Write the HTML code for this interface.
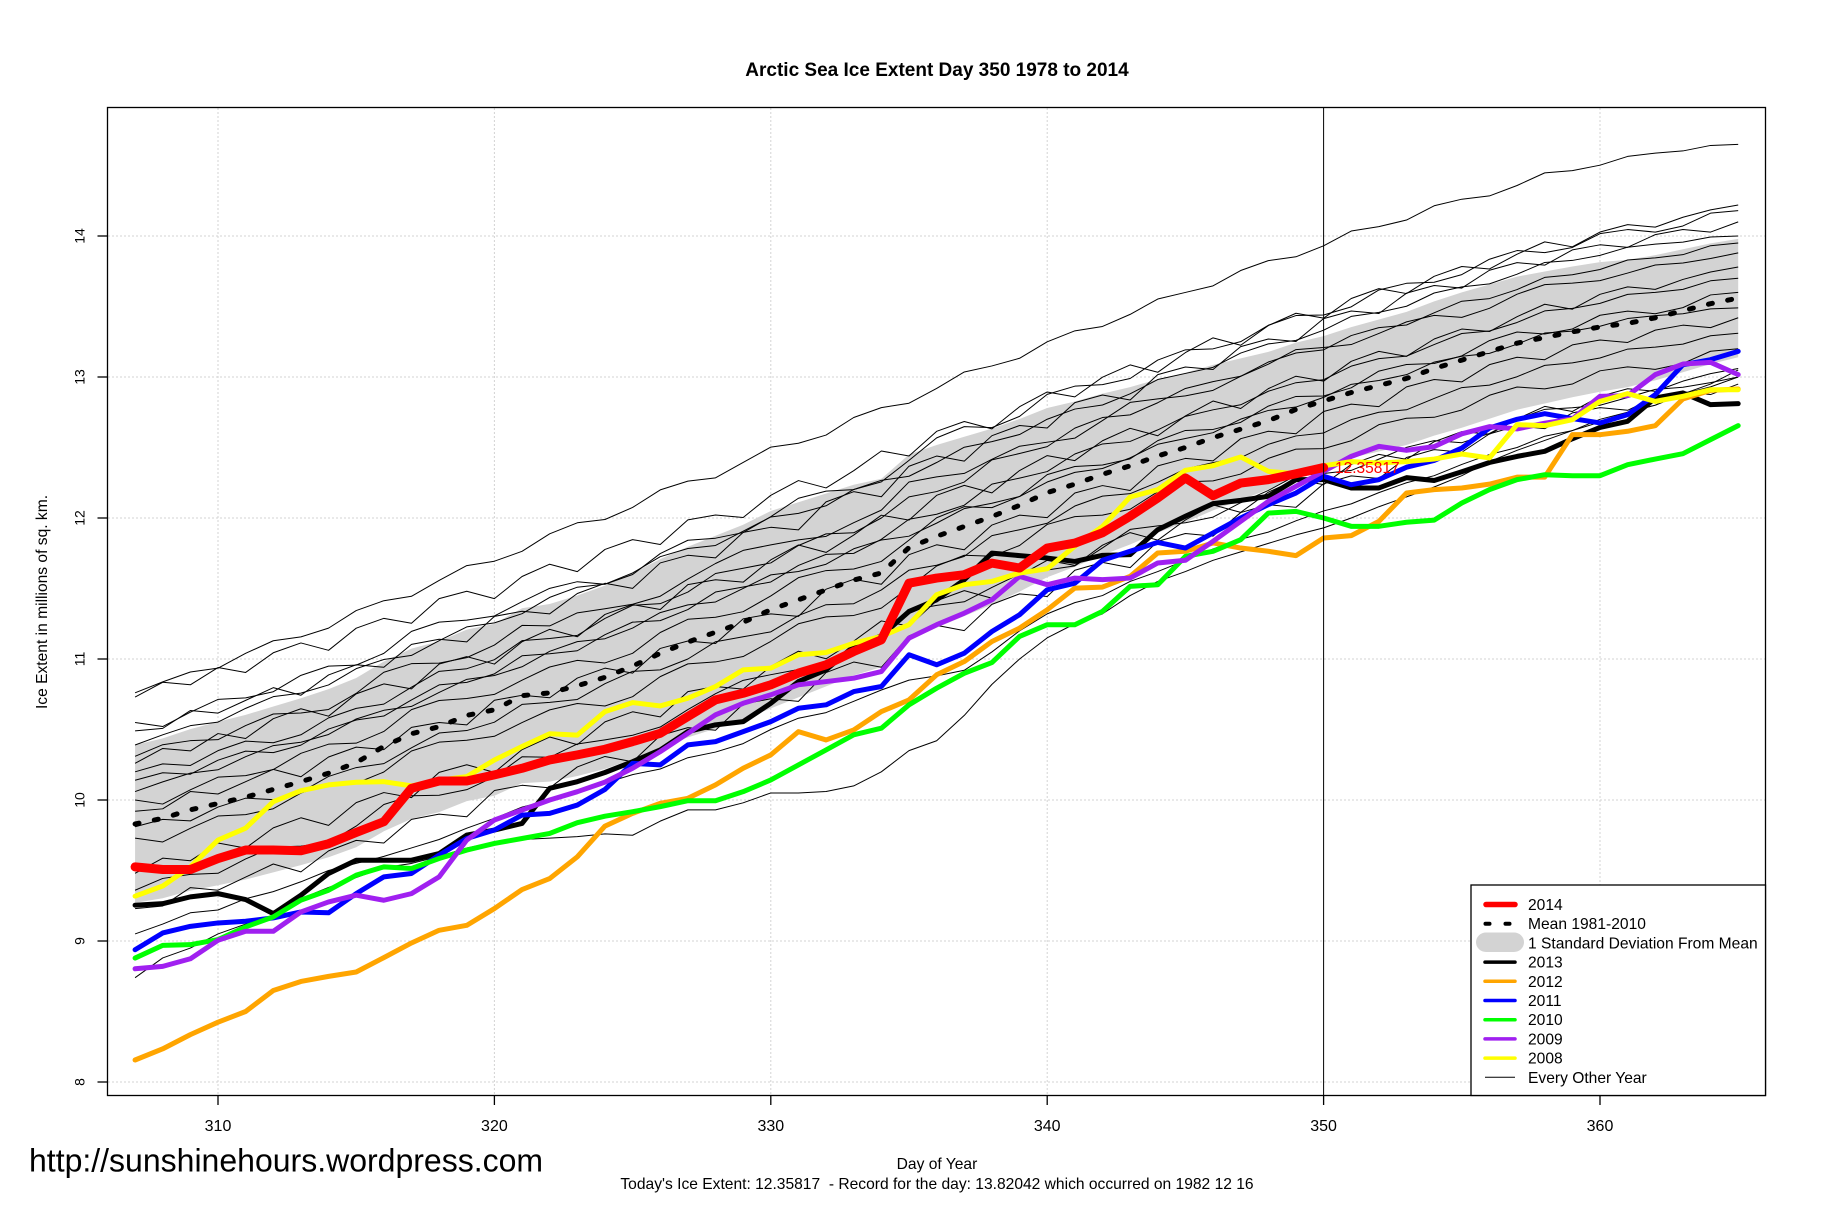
<!DOCTYPE html>
<html><head><meta charset="utf-8"><style>
html,body{margin:0;padding:0;background:#fff;}
svg{display:block;}
text{font-family:"Liberation Sans",Arial,sans-serif;fill:#000;}
.t{fill:none;stroke:#000;stroke-width:1;vector-effect:non-scaling-stroke;stroke-linejoin:round;}
.c{fill:none;stroke-width:5;vector-effect:non-scaling-stroke;stroke-linejoin:round;stroke-linecap:round;}
</style></head><body>
<svg width="1836" height="1223" viewBox="0 0 1836 1223" xmlns="http://www.w3.org/2000/svg">
<rect x="0" y="0" width="1836" height="1223" fill="#fff"/>
<!-- grid -->
<g stroke="#D3D3D3" stroke-width="1" stroke-dasharray="2 2">
<line x1="108" y1="236" x2="1765" y2="236"/><line x1="108" y1="377" x2="1765" y2="377"/><line x1="108" y1="518" x2="1765" y2="518"/><line x1="108" y1="659" x2="1765" y2="659"/><line x1="108" y1="800" x2="1765" y2="800"/><line x1="108" y1="941" x2="1765" y2="941"/><line x1="108" y1="1082" x2="1765" y2="1082"/>
<line x1="218" y1="108" x2="218" y2="1095"/><line x1="494.4" y1="108" x2="494.4" y2="1095"/><line x1="770.8" y1="108" x2="770.8" y2="1095"/><line x1="1047.2" y1="108" x2="1047.2" y2="1095"/><line x1="1600" y1="108" x2="1600" y2="1095"/>
</g>
<g transform="matrix(27.64 0 0 -141 -8350.4 2210)">
<polygon fill="#D3D3D3" stroke="none" points="307,10.39 308,10.437 309,10.503 310,10.555 311,10.604 312,10.663 313,10.722 314,10.786 315,10.865 316,10.982 317,11.074 318,11.126 319,11.208 320,11.25 321,11.36 322,11.39 323,11.45 324,11.52 325,11.61 326,11.708 327,11.796 328,11.874 329,11.952 330,12.05 331,12.112 332,12.174 333,12.236 334,12.278 335,12.45 336,12.518 337,12.576 338,12.634 339,12.702 340,12.78 341,12.826 342,12.882 343,12.928 344,12.984 345,13.03 346,13.086 347,13.132 348,13.178 349,13.244 350,13.29 351,13.354 352,13.408 353,13.462 354,13.536 355,13.6 356,13.656 357,13.712 358,13.748 359,13.784 360,13.815 361,13.832 362,13.864 363,13.906 364,13.948 365,13.98 365,13.14 364,13.092 363,13.034 362,12.976 361,12.928 360,12.895 359,12.856 358,12.812 357,12.768 356,12.704 355,12.64 354,12.584 353,12.518 352,12.472 351,12.426 350,12.37 349,12.296 348,12.202 347,12.128 346,12.054 345,11.97 344,11.896 343,11.812 342,11.738 341,11.654 340,11.58 339,11.478 338,11.386 337,11.304 336,11.222 335,11.13 334,10.942 333,10.884 332,10.806 331,10.728 330,10.65 329,10.568 328,10.506 327,10.444 326,10.372 325,10.29 324,10.22 323,10.17 322,10.13 321,10.12 320,10.03 319,9.992 318,9.914 317,9.866 316,9.778 315,9.665 314,9.594 313,9.538 312,9.487 311,9.436 310,9.395 309,9.357 308,9.303 307,9.27"/>
<polyline class="t" points="307,8.74 308,8.88 309,8.95 310,9.05 311,9.12 312,9.18 313,9.3 314,9.38 315,9.45 316,9.52 317,9.55 318,9.6 319,9.66 320,9.7 321,9.72 322,9.73 323,9.74 324,9.76 325,9.75 326,9.85 327,9.93 328,9.93 329,9.98 330,10.05 331,10.05 332,10.06 333,10.1 334,10.2 335,10.35 336,10.42 337,10.6 338,10.82 339,11 340,11.15 341,11.25 342,11.32 343,11.45 344,11.55 345,11.62 346,11.7 347,11.76 348,11.82 349,11.88 350,11.93 351,12 352,12.08 353,12.15 354,12.22 355,12.3 356,12.4 357,12.48 358,12.55 359,12.62 360,12.68 361,12.75 362,12.8 363,12.88 364,12.95 365,13.05"/>
<polyline class="t" points="307,9.05 308,9.12 309,9.2 310,9.22 311,9.3 312,9.35 313,9.42 314,9.5 315,9.55 316,9.6 317,9.66 318,9.72 319,9.8 320,9.87 321,9.95 322,10 323,10.05 324,10.12 325,10.18 326,10.22 327,10.3 328,10.34 329,10.4 330,10.5 331,10.58 332,10.62 333,10.7 334,10.78 335,10.85 336,10.88 337,10.92 338,11.05 339,11.2 340,11.32 341,11.4 342,11.45 343,11.55 344,11.62 345,11.7 346,11.78 347,11.85 348,11.9 349,11.98 350,12.05 351,12.1 352,12.18 353,12.25 354,12.3 355,12.38 356,12.45 357,12.5 358,12.58 359,12.62 360,12.7 361,12.75 362,12.8 363,12.88 364,12.93 365,13"/>
</g>
<!-- thin lines -->
<g>
<polyline class="t" transform="matrix(27.64 0 0 -548.49 -8350.4 692.84)" points="307,0 308,.02 309,.038 310,.045 311,.072 312,.095 313,.102 314,.118 315,.15 316,.168 317,.176 318,.205 319,.232 320,.24 321,.258 322,.29 323,.31 324,.316 325,.338 326,.37 327,.386 328,.392 329,.42 330,.448 331,.455 332,.47 333,.502 334,.52 335,.528 336,.555 337,.585 338,.596 339,.61 340,.64 341,.66 342,.668 343,.69 344,.718 345,.73 346,.742 347,.77 348,.788 349,.795 350,.815 351,.842 352,.85 353,.862 354,.888 355,.9 356,.906 357,.925 358,.948 359,.952 360,.962 361,.978 362,.984 363,.988 364,.998 365,1"/>
<polyline class="t" transform="matrix(27.64 0 0 -492.09 -8350.4 697.07)" points="307,0 308,.03 309,.025 310,.06 311,.05 312,.09 313,.11 314,.095 315,.14 316,.16 317,.15 318,.2 319,.215 320,.2 321,.245 322,.27 323,.255 324,.3 325,.32 326,.31 327,.36 328,.37 329,.365 330,.41 331,.44 332,.425 333,.46 334,.5 335,.49 336,.54 337,.56 338,.545 339,.59 340,.62 341,.61 342,.65 343,.675 344,.66 345,.7 346,.73 347,.715 348,.755 349,.78 350,.77 351,.81 352,.83 353,.82 354,.855 355,.875 356,.87 357,.9 358,.925 359,.915 360,.945 361,.96 362,.955 363,.975 364,.99 365,1"/>
<polyline class="t" transform="matrix(27.64 0 0 -511.83 -8350.4 722.45)" points="307,0 308,-.008 309,.02 310,.045 311,.048 312,.06 313,.092 314,.11 315,.112 316,.135 317,.178 318,.196 319,.2 320,.208 321,.236 322,.262 323,.275 324,.27 325,.289 326,.33 327,.356 328,.36 329,.371 330,.402 331,.438 332,.452 333,.455 334,.47 335,.512 336,.556 337,.578 338,.576 339,.598 340,.641 341,.657 342,.66 343,.672 344,.708 345,.728 346,.73 347,.744 348,.776 349,.795 350,.796 351,.812 352,.845 353,.858 354,.86 355,.875 356,.905 357,.922 358,.918 359,.928 360,.955 361,.963 362,.958 363,.97 364,.995 365,1"/>
<polyline class="t" transform="matrix(27.64 0 0 -509.01 -8350.4 730.91)" points="307,0 308,.005 309,.04 310,.035 311,.06 312,.085 313,.07 314,.11 315,.13 316,.125 317,.17 318,.18 319,.175 320,.225 321,.235 322,.23 323,.27 324,.29 325,.28 326,.33 327,.345 328,.34 329,.39 330,.4 331,.395 332,.45 333,.47 334,.46 335,.52 336,.54 337,.53 338,.58 339,.6 340,.595 341,.645 342,.66 343,.65 344,.7 345,.715 346,.71 347,.755 348,.77 349,.765 350,.81 351,.825 352,.82 353,.86 354,.875 355,.87 356,.905 357,.92 358,.915 359,.945 360,.955 361,.95 362,.975 363,.985 364,.98 365,1"/>
<polyline class="t" transform="matrix(27.64 0 0 -509.01 -8350.4 745.01)" points="307,0 308,.02 309,.038 310,.045 311,.072 312,.095 313,.102 314,.118 315,.15 316,.168 317,.176 318,.205 319,.232 320,.24 321,.258 322,.29 323,.31 324,.316 325,.338 326,.37 327,.386 328,.392 329,.42 330,.448 331,.455 332,.47 333,.502 334,.52 335,.528 336,.555 337,.585 338,.596 339,.61 340,.64 341,.66 342,.668 343,.69 344,.718 345,.73 346,.742 347,.77 348,.788 349,.795 350,.815 351,.842 352,.85 353,.862 354,.888 355,.9 356,.906 357,.925 358,.948 359,.952 360,.962 361,.978 362,.984 363,.988 364,.998 365,1"/>
<polyline class="t" transform="matrix(27.64 0 0 -503.37 -8350.4 756.29)" points="307,0 308,.023 309,.031 310,.033 311,.061 312,.084 313,.086 314,.093 315,.125 316,.167 317,.184 318,.185 319,.196 320,.221 321,.26 322,.259 323,.285 324,.293 325,.302 326,.318 327,.352 328,.383 329,.409 330,.42 331,.43 332,.437 333,.464 334,.489 335,.545 336,.555 337,.562 338,.59 339,.616 340,.624 341,.632 342,.667 343,.703 344,.71 345,.716 346,.727 347,.755 348,.779 349,.808 350,.812 351,.818 352,.84 353,.863 354,.876 355,.872 356,.89 357,.918 358,.937 359,.94 360,.945 361,.96 362,.976 363,.98 364,.989 365,1"/>
<polyline class="t" transform="matrix(27.64 0 0 -496.32 -8350.4 763.34)" points="307,0 308,.03 309,.025 310,.06 311,.05 312,.09 313,.11 314,.095 315,.14 316,.16 317,.15 318,.2 319,.215 320,.2 321,.245 322,.27 323,.255 324,.3 325,.32 326,.31 327,.36 328,.37 329,.365 330,.41 331,.44 332,.425 333,.46 334,.5 335,.49 336,.54 337,.56 338,.545 339,.59 340,.62 341,.61 342,.65 343,.675 344,.66 345,.7 346,.73 347,.715 348,.755 349,.78 350,.77 351,.81 352,.83 353,.82 354,.855 355,.875 356,.87 357,.9 358,.925 359,.915 360,.945 361,.96 362,.955 363,.975 364,.99 365,1"/>
<polyline class="t" transform="matrix(27.64 0 0 -501.96 -8350.4 780.26)" points="307,0 308,.015 309,.012 310,.04 311,.058 312,.055 313,.07 314,.102 315,.12 316,.128 317,.16 318,.19 319,.195 320,.212 321,.248 322,.252 323,.258 324,.29 325,.315 326,.318 327,.34 328,.375 329,.385 330,.395 331,.428 332,.45 333,.452 334,.48 335,.52 336,.53 337,.548 338,.59 339,.602 340,.615 341,.65 342,.67 343,.675 344,.698 345,.725 346,.738 347,.748 348,.775 349,.792 350,.798 351,.825 352,.84 353,.845 354,.868 355,.89 356,.895 357,.912 358,.935 359,.94 360,.95 361,.968 362,.972 363,.978 364,.995 365,1"/>
<polyline class="t" transform="matrix(27.64 0 0 -483.63 -8350.4 791.54)" points="307,0 308,.02 309,.038 310,.045 311,.072 312,.095 313,.102 314,.118 315,.15 316,.168 317,.176 318,.205 319,.232 320,.24 321,.258 322,.29 323,.31 324,.316 325,.338 326,.37 327,.386 328,.392 329,.42 330,.448 331,.455 332,.47 333,.502 334,.52 335,.528 336,.555 337,.585 338,.596 339,.61 340,.64 341,.66 342,.668 343,.69 344,.718 345,.73 346,.742 347,.77 348,.788 349,.795 350,.815 351,.842 352,.85 353,.862 354,.888 355,.9 356,.906 357,.925 358,.948 359,.952 360,.962 361,.978 362,.984 363,.988 364,.998 365,1"/>
<polyline class="t" transform="matrix(27.64 0 0 -493.5 -8350.4 811.28)" points="307,0 308,.005 309,.04 310,.035 311,.06 312,.085 313,.07 314,.11 315,.13 316,.125 317,.17 318,.18 319,.175 320,.225 321,.235 322,.23 323,.27 324,.29 325,.28 326,.33 327,.345 328,.34 329,.39 330,.4 331,.395 332,.45 333,.47 334,.46 335,.52 336,.54 337,.53 338,.58 339,.6 340,.595 341,.645 342,.66 343,.65 344,.7 345,.715 346,.71 347,.755 348,.77 349,.765 350,.81 351,.825 352,.82 353,.86 354,.875 355,.87 356,.905 357,.92 358,.915 359,.945 360,.955 361,.95 362,.975 363,.985 364,.98 365,1"/>
<polyline class="t" transform="matrix(27.64 0 0 -493.5 -8350.4 826.79)" points="307,0 308,.015 309,.012 310,.04 311,.058 312,.055 313,.07 314,.102 315,.12 316,.128 317,.16 318,.19 319,.195 320,.212 321,.248 322,.252 323,.258 324,.29 325,.315 326,.318 327,.34 328,.375 329,.385 330,.395 331,.428 332,.45 333,.452 334,.48 335,.52 336,.53 337,.548 338,.59 339,.602 340,.615 341,.65 342,.67 343,.675 344,.698 345,.725 346,.738 347,.748 348,.775 349,.792 350,.798 351,.825 352,.84 353,.845 354,.868 355,.89 356,.895 357,.912 358,.935 359,.94 360,.95 361,.968 362,.972 363,.978 364,.995 365,1"/>
<polyline class="t" transform="matrix(27.64 0 0 -489.27 -8350.4 838.07)" points="307,0 308,-.008 309,.02 310,.045 311,.048 312,.06 313,.092 314,.11 315,.112 316,.135 317,.178 318,.196 319,.2 320,.208 321,.236 322,.262 323,.275 324,.27 325,.289 326,.33 327,.356 328,.36 329,.371 330,.402 331,.438 332,.452 333,.455 334,.47 335,.512 336,.556 337,.578 338,.576 339,.598 340,.641 341,.657 342,.66 343,.672 344,.708 345,.728 346,.73 347,.744 348,.776 349,.795 350,.796 351,.812 352,.845 353,.858 354,.86 355,.875 356,.905 357,.922 358,.918 359,.928 360,.955 361,.963 362,.958 363,.97 364,.995 365,1"/>
<polyline class="t" transform="matrix(27.64 0 0 -504.78 -8350.4 873.32)" points="307,0 308,.03 309,.025 310,.06 311,.05 312,.09 313,.11 314,.095 315,.14 316,.16 317,.15 318,.2 319,.215 320,.2 321,.245 322,.27 323,.255 324,.3 325,.32 326,.31 327,.36 328,.37 329,.365 330,.41 331,.44 332,.425 333,.46 334,.5 335,.49 336,.54 337,.56 338,.545 339,.59 340,.62 341,.61 342,.65 343,.675 344,.66 345,.7 346,.73 347,.715 348,.755 349,.78 350,.77 351,.81 352,.83 353,.82 354,.855 355,.875 356,.87 357,.9 358,.925 359,.915 360,.945 361,.96 362,.955 363,.975 364,.99 365,1"/>
<polyline class="t" transform="matrix(27.64 0 0 -513.24 -8350.4 890.24)" points="307,0 308,.023 309,.031 310,.033 311,.061 312,.084 313,.086 314,.093 315,.125 316,.167 317,.184 318,.185 319,.196 320,.221 321,.26 322,.259 323,.285 324,.293 325,.302 326,.318 327,.352 328,.383 329,.409 330,.42 331,.43 332,.437 333,.464 334,.489 335,.545 336,.555 337,.562 338,.59 339,.616 340,.624 341,.632 342,.667 343,.703 344,.71 345,.716 346,.727 347,.755 348,.779 349,.808 350,.812 351,.818 352,.84 353,.863 354,.876 355,.872 356,.89 357,.918 358,.937 359,.94 360,.945 361,.96 362,.976 363,.98 364,.989 365,1"/>
<polyline class="t" transform="matrix(27.64 0 0 -524.52 -8350.4 908.57)" points="307,0 308,.005 309,.04 310,.035 311,.06 312,.085 313,.07 314,.11 315,.13 316,.125 317,.17 318,.18 319,.175 320,.225 321,.235 322,.23 323,.27 324,.29 325,.28 326,.33 327,.345 328,.34 329,.39 330,.4 331,.395 332,.45 333,.47 334,.46 335,.52 336,.54 337,.53 338,.58 339,.6 340,.595 341,.645 342,.66 343,.65 344,.7 345,.715 346,.71 347,.755 348,.77 349,.765 350,.81 351,.825 352,.82 353,.86 354,.875 355,.87 356,.905 357,.92 358,.915 359,.945 360,.955 361,.95 362,.975 363,.985 364,.98 365,1"/>
<polyline class="t" transform="matrix(27.64 0 0 -507.6 -8350.4 800)" points="307,0 308,-.008 309,.02 310,.045 311,.048 312,.06 313,.092 314,.11 315,.112 316,.135 317,.178 318,.196 319,.2 320,.208 321,.236 322,.262 323,.275 324,.27 325,.289 326,.33 327,.356 328,.36 329,.371 330,.402 331,.438 332,.452 333,.455 334,.47 335,.512 336,.556 337,.578 338,.576 339,.598 340,.641 341,.657 342,.66 343,.672 344,.708 345,.728 346,.73 347,.744 348,.776 349,.795 350,.796 351,.812 352,.845 353,.858 354,.86 355,.875 356,.905 357,.922 358,.918 359,.928 360,.955 361,.963 362,.958 363,.97 364,.995 365,1"/>
<polyline class="t" transform="matrix(27.64 0 0 -528.75 -8350.4 771.8)" points="307,0 308,.015 309,.012 310,.04 311,.058 312,.055 313,.07 314,.102 315,.12 316,.128 317,.16 318,.19 319,.195 320,.212 321,.248 322,.252 323,.258 324,.29 325,.315 326,.318 327,.34 328,.375 329,.385 330,.395 331,.428 332,.45 333,.452 334,.48 335,.52 336,.53 337,.548 338,.59 339,.602 340,.615 341,.65 342,.67 343,.675 344,.698 345,.725 346,.738 347,.748 348,.775 349,.792 350,.798 351,.825 352,.84 353,.845 354,.868 355,.89 356,.895 357,.912 358,.935 359,.94 360,.95 361,.968 362,.972 363,.978 364,.995 365,1"/>
</g>
<g transform="matrix(27.64 0 0 -141 -8350.4 2210)">
<polyline fill="none" stroke="#000" stroke-width="5" stroke-dasharray="4 15.6" stroke-linecap="round" vector-effect="non-scaling-stroke" points="307,9.83 308,9.87 309,9.93 310,9.975 311,10.02 312,10.075 313,10.13 314,10.19 315,10.265 316,10.38 317,10.47 318,10.52 319,10.6 320,10.64 321,10.74 322,10.76 323,10.81 324,10.87 325,10.95 326,11.04 327,11.12 328,11.19 329,11.26 330,11.35 331,11.42 332,11.49 333,11.56 334,11.61 335,11.79 336,11.87 337,11.94 338,12.01 339,12.09 340,12.18 341,12.24 342,12.31 343,12.37 344,12.44 345,12.5 346,12.57 347,12.63 348,12.69 349,12.77 350,12.83 351,12.89 352,12.94 353,12.99 354,13.06 355,13.12 356,13.18 357,13.24 358,13.28 359,13.32 360,13.355 361,13.38 362,13.42 363,13.47 364,13.52 365,13.56"/>
<polyline class="c" stroke="#000" points="307,9.254 308,9.265 309,9.313 310,9.336 311,9.294 312,9.194 313,9.325 314,9.479 315,9.573 316,9.573 317,9.573 318,9.62 319,9.751 320,9.787 321,9.834 322,10.083 323,10.13 324,10.195 325,10.272 326,10.355 327,10.485 328,10.533 329,10.556 330,10.686 331,10.84 332,10.923 333,11.089 334,11.164 335,11.337 336,11.42 337,11.562 338,11.751 339,11.733 340,11.716 341,11.692 342,11.735 343,11.74 344,11.917 345,12.012 346,12.102 347,12.125 348,12.154 349,12.272 350,12.272 351,12.213 352,12.213 353,12.286 354,12.266 355,12.328 356,12.394 357,12.437 358,12.473 359,12.562 360,12.642 361,12.686 362,12.851 363,12.887 364,12.804 365,12.811"/>
<polyline class="c" stroke="#FFA500" points="307,8.156 308,8.235 309,8.336 310,8.424 311,8.5 312,8.649 313,8.713 314,8.749 315,8.78 316,8.882 317,8.986 318,9.076 319,9.111 320,9.23 321,9.365 322,9.443 323,9.597 324,9.815 325,9.905 326,9.976 327,10.012 328,10.107 329,10.225 330,10.32 331,10.485 332,10.426 333,10.497 334,10.627 335,10.71 336,10.888 337,10.982 338,11.124 339,11.219 340,11.349 341,11.503 342,11.51 343,11.586 344,11.752 345,11.764 346,11.823 347,11.787 348,11.764 349,11.733 350,11.858 351,11.875 352,11.976 353,12.177 354,12.201 355,12.213 356,12.24 357,12.29 358,12.29 359,12.591 360,12.591 361,12.615 362,12.655 363,12.844 364,12.905 365,12.915"/>
<polyline class="c" stroke="#0000FF" points="307,8.938 308,9.057 309,9.104 310,9.128 311,9.14 312,9.164 313,9.206 314,9.2 315,9.336 316,9.455 317,9.479 318,9.609 319,9.727 320,9.787 321,9.893 322,9.905 323,9.964 324,10.075 325,10.26 326,10.249 327,10.391 328,10.414 329,10.485 330,10.556 331,10.651 332,10.675 333,10.769 334,10.805 335,11.03 336,10.959 337,11.041 338,11.195 339,11.314 340,11.491 341,11.538 342,11.7 343,11.764 344,11.827 345,11.787 346,11.894 347,12 348,12.095 349,12.177 350,12.296 351,12.236 352,12.272 353,12.36 354,12.408 355,12.496 356,12.638 357,12.7 358,12.74 359,12.705 360,12.674 361,12.733 362,12.875 363,13.087 364,13.123 365,13.182"/>
<polyline class="c" stroke="#00FF00" points="307,8.879 308,8.969 309,8.974 310,9.01 311,9.1 312,9.171 313,9.29 314,9.36 315,9.467 316,9.526 317,9.514 318,9.585 319,9.645 320,9.692 321,9.727 322,9.763 323,9.839 324,9.885 325,9.917 326,9.953 327,9.995 328,9.995 329,10.059 330,10.142 331,10.249 332,10.355 333,10.462 334,10.509 335,10.675 336,10.793 337,10.899 338,10.975 339,11.16 340,11.243 341,11.243 342,11.338 343,11.515 344,11.527 345,11.728 346,11.764 347,11.846 348,12.035 349,12.047 350,12 351,11.941 352,11.941 353,11.97 354,11.985 355,12.106 356,12.201 357,12.272 358,12.307 359,12.3 360,12.3 361,12.378 362,12.418 363,12.456 364,12.556 365,12.655"/>
<polyline class="c" stroke="#A020F0" points="307,8.803 308,8.82 309,8.874 310,9.005 311,9.069 312,9.069 313,9.206 314,9.277 315,9.325 316,9.289 317,9.336 318,9.455 319,9.716 320,9.858 321,9.929 322,10 323,10.059 324,10.127 325,10.225 326,10.343 327,10.473 328,10.604 329,10.686 330,10.746 331,10.817 332,10.84 333,10.864 334,10.911 335,11.148 336,11.243 337,11.325 338,11.42 339,11.586 340,11.527 341,11.574 342,11.563 343,11.574 344,11.681 345,11.7 346,11.835 347,11.976 348,12.118 349,12.225 350,12.331 351,12.437 352,12.508 353,12.48 354,12.506 355,12.597 356,12.648 357,12.632 358,12.672 359,12.703 360,12.863 361,12.868 362,13.017 363,13.092 364,13.104 365,13.017"/>
<polyline class="c" stroke="#FFFF00" points="307,9.318 308,9.39 309,9.526 310,9.716 311,9.8 312,9.988 313,10.066 314,10.107 315,10.126 316,10.13 317,10.1 318,10.14 319,10.166 320,10.284 321,10.379 322,10.47 323,10.46 324,10.627 325,10.691 326,10.667 327,10.722 328,10.805 329,10.923 330,10.935 331,11.03 332,11.046 333,11.112 334,11.16 335,11.243 336,11.456 337,11.527 338,11.55 339,11.61 340,11.64 341,11.8 342,11.94 343,12.149 344,12.201 345,12.338 346,12.371 347,12.433 348,12.331 349,12.314 350,12.37 351,12.4 352,12.39 353,12.4 354,12.418 355,12.454 356,12.426 357,12.662 358,12.655 359,12.697 360,12.827 361,12.882 362,12.827 363,12.863 364,12.91 365,12.91"/>
<polyline class="c" stroke="#FF0000" style="stroke-width:9" points="307,9.526 308,9.507 309,9.507 310,9.585 311,9.645 312,9.645 313,9.64 314,9.69 315,9.77 316,9.846 317,10.083 318,10.135 319,10.135 320,10.178 321,10.225 322,10.284 323,10.32 324,10.36 325,10.414 326,10.473 327,10.592 328,10.71 329,10.757 330,10.817 331,10.9 332,10.959 333,11.053 334,11.136 335,11.538 336,11.574 337,11.598 338,11.68 339,11.645 340,11.787 341,11.822 342,11.895 343,12.012 344,12.142 345,12.284 346,12.158 347,12.248 348,12.272 349,12.314 350,12.358"/>
</g>
<line x1="1323.6" y1="107.5" x2="1323.6" y2="1095.5" stroke="#000" stroke-width="1"/>
<text x="1335" y="473" font-size="15.5" style="fill:#FF0000">12.35817</text>
<rect x="107.5" y="107.5" width="1658" height="988" fill="none" stroke="#000" stroke-width="1.3"/>
<g stroke="#000" stroke-width="1.3">
<line x1="97.5" y1="236" x2="107.5" y2="236"/><line x1="97.5" y1="377" x2="107.5" y2="377"/><line x1="97.5" y1="518" x2="107.5" y2="518"/><line x1="97.5" y1="659" x2="107.5" y2="659"/><line x1="97.5" y1="800" x2="107.5" y2="800"/><line x1="97.5" y1="941" x2="107.5" y2="941"/><line x1="97.5" y1="1082" x2="107.5" y2="1082"/>
<line x1="218" y1="1095.5" x2="218" y2="1105"/><line x1="494.4" y1="1095.5" x2="494.4" y2="1105"/><line x1="770.8" y1="1095.5" x2="770.8" y2="1105"/><line x1="1047.2" y1="1095.5" x2="1047.2" y2="1105"/><line x1="1323.6" y1="1095.5" x2="1323.6" y2="1105"/><line x1="1600" y1="1095.5" x2="1600" y2="1105"/>
</g>
<g font-size="14" text-anchor="middle">
<text transform="translate(84.5,236) rotate(-90)">14</text>
<text transform="translate(84.5,377) rotate(-90)">13</text>
<text transform="translate(84.5,518) rotate(-90)">12</text>
<text transform="translate(84.5,659) rotate(-90)">11</text>
<text transform="translate(84.5,800) rotate(-90)">10</text>
<text transform="translate(84.5,941) rotate(-90)">9</text>
<text transform="translate(84.5,1082) rotate(-90)">8</text>
</g>
<g font-size="16" text-anchor="middle">
<text x="218" y="1131">310</text><text x="494.4" y="1131">320</text><text x="770.8" y="1131">330</text><text x="1047.2" y="1131">340</text><text x="1323.6" y="1131">350</text><text x="1600" y="1131">360</text>
</g>
<text x="937" y="76" font-size="19" font-weight="bold" text-anchor="middle">Arctic Sea Ice Extent Day 350 1978 to 2014</text>
<text transform="translate(47,602) rotate(-90)" font-size="15.6" text-anchor="middle">Ice Extent in millions of sq. km.</text>
<text x="937" y="1169" font-size="15.6" text-anchor="middle">Day of Year</text>
<text x="937" y="1189" font-size="15.6" text-anchor="middle" style="white-space:pre">Today's Ice Extent: 12.35817  - Record for the day: 13.82042 which occurred on 1982 12 16</text>
<text x="29" y="1171.5" font-size="32">http://sunshinehours.wordpress.com</text>
<rect x="1471" y="885" width="294.5" height="210.5" fill="#fff" stroke="#000" stroke-width="1.3"/>
<g stroke-linecap="round">
<line x1="1486" y1="904.5" x2="1515" y2="904.5" stroke="#FF0000" stroke-width="5.5"/>
<line x1="1485.5" y1="923.7" x2="1516" y2="923.7" stroke="#000" stroke-width="4" stroke-dasharray="4 16"/>
<rect x="1476" y="932.5" width="48" height="19.5" rx="10" ry="9.75" fill="#D3D3D3" stroke="none"/>
<line x1="1485" y1="962.1" x2="1515" y2="962.1" stroke="#000" stroke-width="3.5"/>
<line x1="1485" y1="981.3" x2="1515" y2="981.3" stroke="#FFA500" stroke-width="3.5"/>
<line x1="1485" y1="1000.5" x2="1515" y2="1000.5" stroke="#0000FF" stroke-width="3.5"/>
<line x1="1485" y1="1019.7" x2="1515" y2="1019.7" stroke="#00FF00" stroke-width="3.5"/>
<line x1="1485" y1="1038.9" x2="1515" y2="1038.9" stroke="#A020F0" stroke-width="3.5"/>
<line x1="1485" y1="1058.1" x2="1515" y2="1058.1" stroke="#FFFF00" stroke-width="3.5"/>
<line x1="1485" y1="1077.3" x2="1515" y2="1077.3" stroke="#000" stroke-width="1" stroke-linecap="butt"/>
</g>
<g font-size="15.6">
<text x="1528" y="910">2014</text>
<text x="1528" y="929.2">Mean 1981-2010</text>
<text x="1528" y="948.4">1 Standard Deviation From Mean</text>
<text x="1528" y="967.6">2013</text>
<text x="1528" y="986.8">2012</text>
<text x="1528" y="1006">2011</text>
<text x="1528" y="1025.2">2010</text>
<text x="1528" y="1044.4">2009</text>
<text x="1528" y="1063.6">2008</text>
<text x="1528" y="1082.8">Every Other Year</text>
</g>
</svg>
</body></html>
